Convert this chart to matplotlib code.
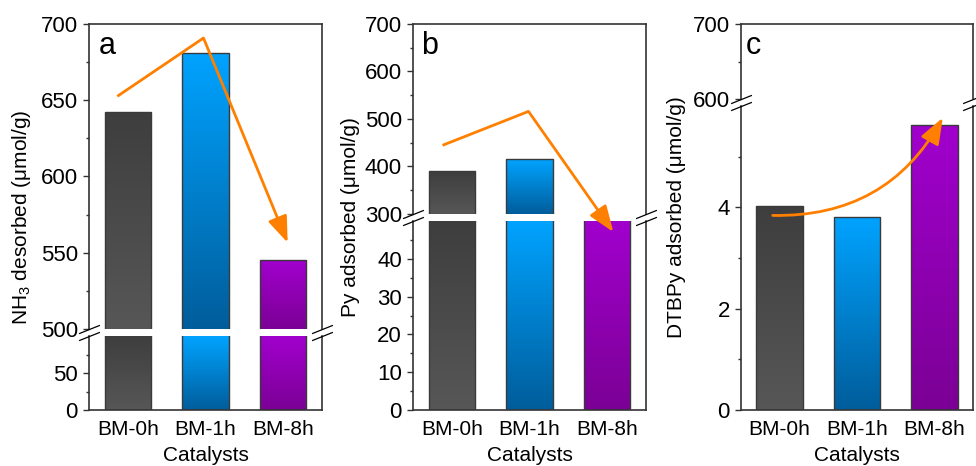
import numpy as np
import matplotlib
matplotlib.use('Agg')
import matplotlib.pyplot as plt
from matplotlib.colors import LinearSegmentedColormap

plt.rcParams['font.family'] = ['Liberation Sans', 'DejaVu Sans']
plt.rcParams['mathtext.default'] = 'regular'
plt.rcParams['font.size'] = 15

# data
catalysts = ['BM-0h', 'BM-1h', 'BM-8h']
nh3_desorbed = [642, 681, 545]
py_adsorbed = [390, 415, 288]
dtbpy_adsorbed = [4.02, 3.80, 5.62]

# gradient colours (top of visible bar -> bottom)
bar_top = ['#3e3e3e', '#00a3ff', '#a100cd']
bar_bot = ['#575757', '#005d9b', '#7b0095']
orange = '#ff8000'
spine_col = '#333333'

W, H = 976, 466
fig = plt.figure(figsize=(W / 100, H / 100), dpi=100)


def px_axes(x0, x1, ytop, ybot):
    """Axes placed with pixel coordinates measured from the top left."""
    ax = fig.add_axes([x0 / W, 1 - ybot / H, (x1 - x0) / W, (ybot - ytop) / H])
    ax.set_facecolor('none')
    return ax


def gradient_bars(ax, values):
    """Draw bars, then fill each visible piece with a vertical gradient."""
    x = np.arange(len(values))
    lo, hi = ax.get_ylim()
    bars = ax.bar(x, values, width=0.6, color='none', edgecolor='#3a3a3a',
                  linewidth=1.0, zorder=3)
    grad = np.linspace(0, 1, 256).reshape(-1, 1)
    for i, b in enumerate(bars):
        top = min(b.get_height(), hi)
        if top <= lo:
            continue
        cmap = LinearSegmentedColormap.from_list('g%d' % i, [bar_bot[i], bar_top[i]])
        im = ax.imshow(grad, cmap=cmap, origin='lower', aspect='auto',
                       extent=(b.get_x(), b.get_x() + b.get_width(), lo, top),
                       zorder=2, interpolation='bilinear')
        im.set_clip_path(b)
    ax.set_xlim(-0.5, 2.5)
    ax.set_ylim(lo, hi)


def style(ax, upper):
    for s in ax.spines.values():
        s.set_color(spine_col)
        s.set_linewidth(1.2)
    ax.tick_params(axis='y', which='major', direction='out', length=4, width=1,
                   color=spine_col, pad=4, labelsize=16)
    ax.tick_params(axis='y', which='minor', direction='out', length=2.5, width=1,
                   color=spine_col)
    if upper:
        ax.spines['bottom'].set_visible(False)
        ax.tick_params(axis='x', bottom=False, labelbottom=False)
    else:
        ax.spines['top'].set_visible(False)
        ax.set_xticks(range(3))
        ax.set_xticklabels(catalysts)
        ax.tick_params(axis='x', length=0, pad=7, labelsize=15)


def break_marks(ax_up, ax_lo):
    kw = dict(marker=[(-1, -0.4), (1, 0.4)], markersize=15, linestyle='none',
              color='k', mec='k', mew=0.9, clip_on=False, zorder=6)
    ax_up.plot([0, 1], [0, 0], transform=ax_up.transAxes, **kw)
    ax_lo.plot([0, 1], [1, 1], transform=ax_lo.transAxes, **kw)


# ---- panel a ----
a_lo = px_axes(89, 322, 336, 410)
a_lo.set_ylim(0, 100)
gradient_bars(a_lo, nh3_desorbed)
a_lo.set_yticks([0, 50])
a_lo.set_yticks([25, 75], minor=True)
style(a_lo, False)

a_up = px_axes(89, 322, 24, 329)
a_up.set_ylim(500, 700)
gradient_bars(a_up, nh3_desorbed)
a_up.set_yticks(np.arange(500, 701, 50))
a_up.set_yticks(np.arange(525, 700, 50), minor=True)
style(a_up, True)
break_marks(a_up, a_lo)

arrow_a_x = [-0.135, 0.974, 2.058]
arrow_a_y = [652.6, 690.8, 556.6]
a_up.plot(arrow_a_x[:2], arrow_a_y[:2], color=orange, lw=2, zorder=5,
          solid_capstyle='butt', clip_on=False)
a_up.annotate('', xy=(arrow_a_x[2], arrow_a_y[2]), xytext=(arrow_a_x[1], arrow_a_y[1]),
              arrowprops=dict(arrowstyle='-|>,head_length=0.8,head_width=0.3',
                              color=orange, lw=2, shrinkA=0, shrinkB=0,
                              mutation_scale=20),
              annotation_clip=False, zorder=5)

# ---- panel b ----
b_lo = px_axes(413, 646, 221, 410)
b_lo.set_ylim(0, 50)
gradient_bars(b_lo, py_adsorbed)
b_lo.set_yticks(np.arange(0, 41, 10))
b_lo.set_yticks(np.arange(5, 50, 10), minor=True)
style(b_lo, False)

b_up = px_axes(413, 646, 24, 214)
b_up.set_ylim(300, 700)
gradient_bars(b_up, py_adsorbed)
b_up.set_yticks(np.arange(300, 701, 100))
b_up.set_yticks(np.arange(350, 700, 100), minor=True)
style(b_up, True)
break_marks(b_up, b_lo)

arrow_b_x = [-0.12, 0.987, 2.08]
arrow_b_y = [444.6, 516, 262]
b_up.plot(arrow_b_x[:2], arrow_b_y[:2], color=orange, lw=2, zorder=5,
          solid_capstyle='butt', clip_on=False)
b_up.annotate('', xy=(arrow_b_x[2], arrow_b_y[2]), xytext=(arrow_b_x[1], arrow_b_y[1]),
              arrowprops=dict(arrowstyle='-|>,head_length=0.8,head_width=0.3',
                              color=orange, lw=2, shrinkA=0, shrinkB=0,
                              mutation_scale=20),
              annotation_clip=False, zorder=5)

# ---- panel c ----
c_lo = px_axes(741, 973, 106, 410)
c_lo.set_ylim(0, 6)
gradient_bars(c_lo, dtbpy_adsorbed)
c_lo.set_yticks([0, 2, 4])
c_lo.set_yticks([1, 3, 5], minor=True)
style(c_lo, False)

c_up = px_axes(741, 973, 24, 99)
c_up.set_ylim(600, 700)
c_up.set_xlim(-0.5, 2.5)
c_up.set_yticks([600, 700])
c_up.set_yticks([650], minor=True)
style(c_up, True)
break_marks(c_up, c_lo)

c_lo.annotate('', xy=(2.11, 5.77), xytext=(-0.09, 3.84),
              arrowprops=dict(arrowstyle='-|>,head_length=0.8,head_width=0.3',
                              color=orange, lw=2, shrinkA=0, shrinkB=0,
                              mutation_scale=20, connectionstyle='arc3,rad=0.3'),
              annotation_clip=False, zorder=5)

# panel letters, axis titles
for x, letter in [(99, 'a'), (421, 'b'), (746, 'c')]:
    fig.text(x / W, 1 - 54 / H, letter, fontsize=22, va='baseline')

fig.text(22 / W, 1 - 217 / H, 'NH$_3$ desorbed (\u03bcmol/g)', rotation=90,
         ha='center', va='center', fontsize=15)
fig.text(350 / W, 1 - 217 / H, 'Py adsorbed (\u03bcmol/g)', rotation=90,
         ha='center', va='center', fontsize=15)
fig.text(676 / W, 1 - 217 / H, 'DTBPy adsorbed (\u03bcmol/g)', rotation=90,
         ha='center', va='center', fontsize=15)
for xc in [205.5, 529.5, 857]:
    fig.text(xc / W, 1 - 461 / H, 'Catalysts', ha='center', va='baseline', fontsize=15)

fig.savefig('out.png', dpi=100)
